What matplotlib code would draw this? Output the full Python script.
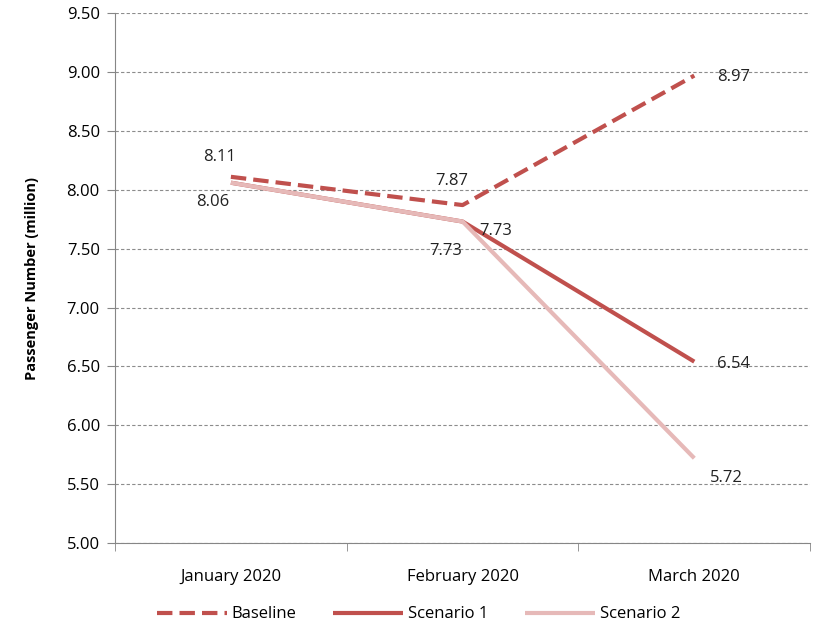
import matplotlib.pyplot as plt

months = ["January 2020", "February 2020", "March 2020"]
baseline = [8.11, 7.87, 8.97]
scenario1 = [8.06, 7.73, 6.54]
scenario2 = [8.06, 7.73, 5.72]

plt.rcParams['font.family'] = ['Open Sans', 'DejaVu Sans']

fig = plt.figure(figsize=(8.13, 6.27), dpi=100)
ax = fig.add_axes([0.1415, 0.134, 0.855, 0.845])

x = list(range(len(months)))
red = "#C0504D"
pink = "#E6B9B8"
ax.plot(x, scenario1, color=red, lw=3, solid_capstyle="butt", label="Scenario 1", zorder=2)
ax.plot(x, scenario2, color=pink, lw=3, solid_capstyle="butt", label="Scenario 2", zorder=3)
ax.plot(x, baseline, color=red, lw=3, ls=(0, (3.7, 1.7)), label="Baseline", zorder=4)

# data labels (offsets in points)
txt = dict(fontsize=12, color="#222222", ha="center", va="center", textcoords="offset points")
b_off = [(-8, 14), (-8, 17), (28, -1)]
s1_off = [None, (24, -7), (28, -2)]
s2_off = [(-13, -14), (-12, -21), (23, -14)]
for i in x:
    ax.annotate(f"{baseline[i]:.2f}", (i, baseline[i]), xytext=b_off[i], **txt)
    if s1_off[i]:
        ax.annotate(f"{scenario1[i]:.2f}", (i, scenario1[i]), xytext=s1_off[i], **txt)
    ax.annotate(f"{scenario2[i]:.2f}", (i, scenario2[i]), xytext=s2_off[i], **txt)

ax.set_xlim(-0.5, 2.5)
ax.set_ylim(5.0, 9.5)
ax.set_yticks([5 + 0.5 * k for k in range(10)])
ax.yaxis.set_major_formatter(plt.FormatStrFormatter("%.2f"))
ax.set_xticks(x)
ax.set_xticklabels(months)
ax.set_xticks([-0.5, 0.5, 1.5, 2.5], minor=True)
ax.tick_params(axis="x", which="major", length=0, pad=19, labelsize=12)
ax.tick_params(axis="x", which="minor", length=6, color="#868686")
ax.tick_params(axis="y", length=6, color="#868686", labelsize=12, pad=5)
ax.grid(axis="y", ls=(0, (3, 2)), color="#8c8c8c", lw=0.8)
ax.set_axisbelow(True)
for s in ["top", "right"]:
    ax.spines[s].set_visible(False)
for s in ["left", "bottom"]:
    ax.spines[s].set_color("#868686")
ax.set_ylabel("Passenger Number (million)", fontsize=10.5, fontweight="bold", labelpad=20)

h, l = ax.get_legend_handles_labels()
order = [2, 0, 1]
fig.legend([h[i] for i in order], [l[i] for i in order], loc="center",
           bbox_to_anchor=(0.515, 0.02), ncol=3, frameon=False, fontsize=12,
           handlelength=4.2, columnspacing=2.2, handletextpad=0.3)

fig.savefig("out.png", dpi=100)
